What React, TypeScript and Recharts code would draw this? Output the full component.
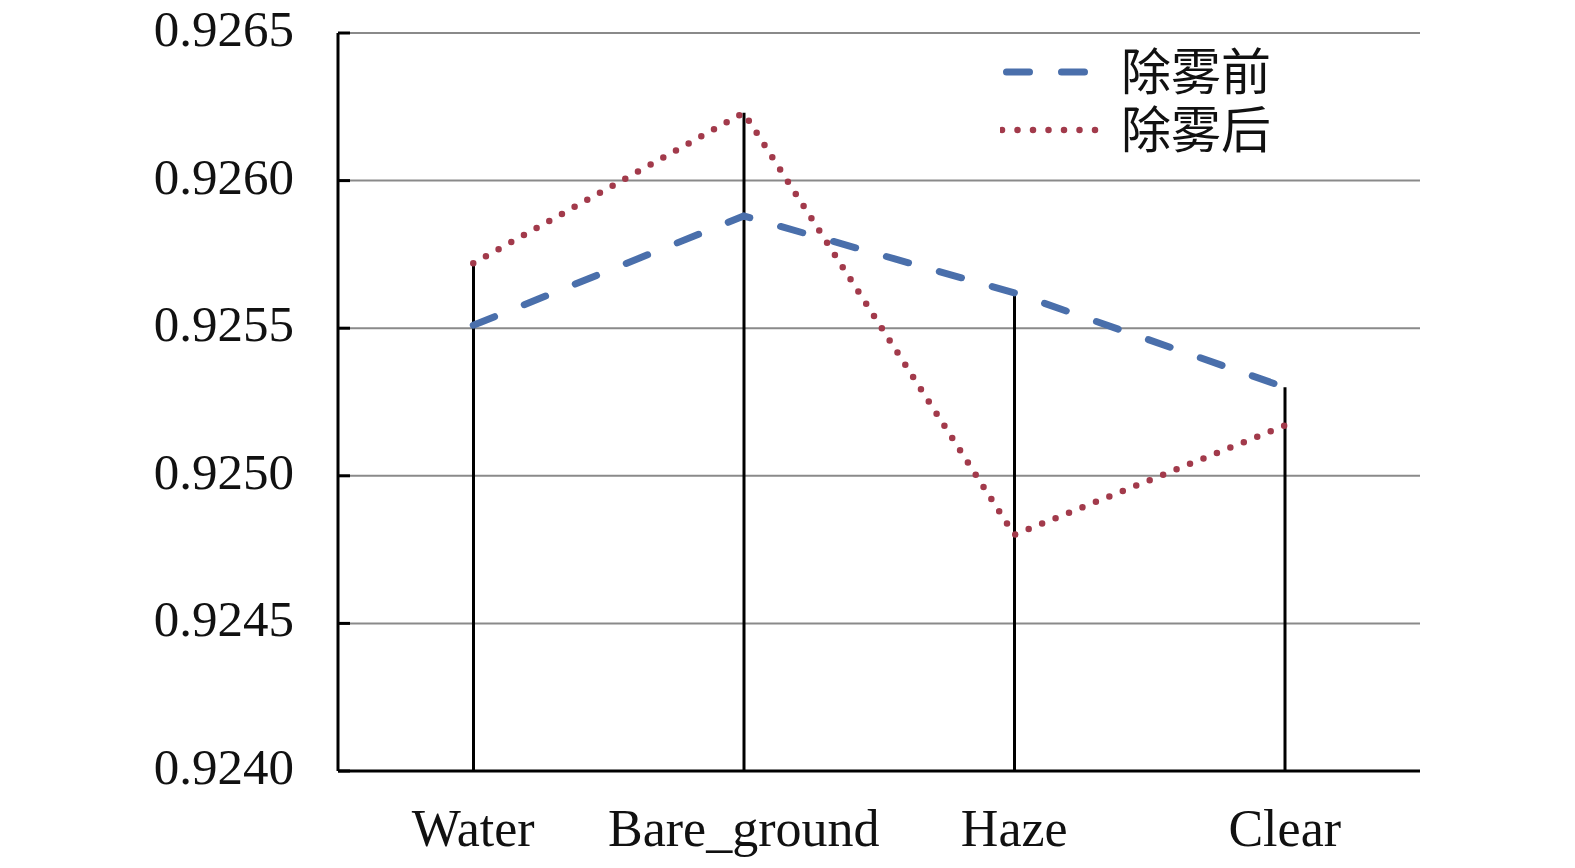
import { Bar, CartesianGrid, ComposedChart, Legend, Line, XAxis, YAxis } from 'recharts';

const categories = ['Water', 'Bare_ground', 'Haze', 'Clear'];
const beforeDehaze = [0.92551, 0.92588, 0.92562, 0.9253];
const afterDehaze = [0.92572, 0.92623, 0.9248, 0.92517];
const yTicks = [0.924, 0.9245, 0.925, 0.9255, 0.926, 0.9265];

const seriesNames: Record<string, string> = {
  before: '除雾前',
  after: '除雾后',
};

const data = categories.map((name, i) => ({
  name,
  before: beforeDehaze[i],
  after: afterDehaze[i],
  peak: Math.max(beforeDehaze[i], afterDehaze[i]),
}));

const FONT = '"Liberation Serif", "Noto Sans CJK SC", serif';
const BLUE = '#4a6fab';
const RED = '#a23a4b';

const YTick = (props: any) => {
  const { x, y, payload } = props;
  return (
    <g>
      <line x1={x + 44} x2={x + 56} y1={y} y2={y} stroke='#000' strokeWidth={3} />
      <text x={x} y={y} dy={13} textAnchor='end' fontFamily={FONT} fontSize={51} fill='#111'>
        {payload.value.toFixed(4)}
      </text>
    </g>
  );
};

const XTick = (props: any) => {
  const { x, y, payload } = props;
  return (
    <text x={x} y={y} dy={75} textAnchor='middle' fontFamily={FONT} fontSize={52} fill='#111'>
      {payload.value}
    </text>
  );
};

const LegendBox = () => (
  <svg width={300} height={130}>
    <line x1={6.5} x2={84.5} y1={32} y2={32} stroke={BLUE} strokeWidth={7} strokeDasharray='23 32' strokeLinecap='round' />
    <text x={121} y={50} fontFamily={FONT} fontSize={50} fill='#111'>
      {seriesNames.before}
    </text>
    <line x1={2} x2={95.5} y1={90} y2={90} stroke={RED} strokeWidth={6.5} strokeDasharray='0 15.5' strokeLinecap='round' />
    <text x={121} y={108} fontFamily={FONT} fontSize={50} fill='#111'>
      {seriesNames.after}
    </text>
  </svg>
);

export default function App() {
  return (
    <div style={{ margin: -8 }}>
      <ComposedChart
        width={1575}
        height={868}
        data={data}
        margin={{ top: 33, right: 155, left: 0, bottom: 37 }}
      >
        <CartesianGrid vertical={false} stroke='#8a8a8a' strokeWidth={2} />
        <XAxis
          dataKey='name'
          height={60}
          axisLine={{ stroke: '#000', strokeWidth: 3 }}
          tickLine={false}
          tickSize={0}
          tickMargin={0}
          tick={<XTick />}
          interval={0}
        />
        <YAxis
          type='number'
          domain={[0.924, 0.9265]}
          ticks={yTicks}
          width={338}
          axisLine={{ stroke: '#000', strokeWidth: 3 }}
          tickLine={false}
          tickSize={0}
          tickMargin={44}
          tick={<YTick />}
          interval={0}
        />
        <Bar dataKey='peak' barSize={3} fill='#000' legendType='none' isAnimationActive={false} />
        <Line
          dataKey='before'
          name={seriesNames.before}
          stroke={BLUE}
          strokeWidth={7}
          strokeDasharray='23 32'
          strokeLinecap='round'
          dot={false}
          activeDot={false}
          type='linear'
          isAnimationActive={false}
        />
        <Line
          dataKey='after'
          name={seriesNames.after}
          stroke={RED}
          strokeWidth={6.5}
          strokeDasharray='0 14.5'
          strokeLinecap='round'
          dot={false}
          activeDot={false}
          type='linear'
          isAnimationActive={false}
        />
        <Legend
          layout='horizontal'
          align='center'
          verticalAlign='middle'
          wrapperStyle={{ top: 40, left: 1000, width: 300 }}
          content={<LegendBox />}
        />
      </ComposedChart>
    </div>
  );
}
